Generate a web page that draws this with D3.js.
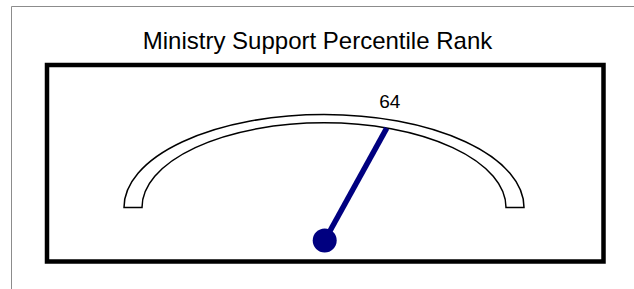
<!DOCTYPE html>
<html>
<head>
<meta charset="utf-8">
<script src="https://cdn.jsdelivr.net/npm/d3@7"></script>
<style>
  body { margin: 0; background: #fff; }
  text { font-family: "Liberation Sans", Arial, sans-serif; fill: #000; }
</style>
</head>
<body>
<script>
const title = "Ministry Support Percentile Rank";
const gaugeDomain = [0, 100];
const values = [64];
const valueLabels = ["64"];

const w = 634;
const h = 289;
const cx = 324;
const cy = 207.5;
const rOuter = 200;
const rInner = 182;
const squash = 0.465;

const svg = d3
  .select("body")
  .append("svg")
  .attr("width", w)
  .attr("height", h);

// outer chart area border (only left + top visible)
svg.append("path")
  .attr("d", `M11.5,${h} V6.5 H${w}`)
  .attr("fill", "none")
  .attr("stroke", "#8c8c8c")
  .attr("stroke-width", 1);

svg.append("text")
  .attr("x", 317.5)
  .attr("y", 48.5)
  .attr("text-anchor", "middle")
  .style("font-size", "24px")
  .text(title);

// plot frame
svg.append("rect")
  .attr("x", 47)
  .attr("y", 65)
  .attr("width", 556.5)
  .attr("height", 196.5)
  .attr("fill", "#fff")
  .attr("stroke", "#000")
  .attr("stroke-width", 4.5);

// value -> angle (d3.arc convention, 0 = up)
const angle = d3.scaleLinear()
  .domain(gaugeDomain)
  .range([-0.4 * Math.PI, 0.4 * Math.PI]);

const band = d3.arc()
  .innerRadius(rInner)
  .outerRadius(rOuter)
  .startAngle(-Math.PI / 2)
  .endAngle(Math.PI / 2);

svg.append("g")
  .attr("transform", `translate(${cx},${cy}) scale(1,${squash})`)
  .append("path")
  .attr("d", band())
  .attr("fill", "#fff")
  .attr("stroke", "#000")
  .attr("stroke-width", 1.5)
  .attr("vector-effect", "non-scaling-stroke");

const pivot = [324.7, 240.5];

values.forEach((v, i) => {
  const a = angle(v);
  const tx = cx + rInner * Math.sin(a);
  const ty = cy - rInner * squash * Math.cos(a);
  svg.append("line")
    .attr("x1", pivot[0])
    .attr("y1", pivot[1])
    .attr("x2", tx)
    .attr("y2", ty)
    .attr("stroke", "#000080")
    .attr("stroke-width", 5.5);
  svg.append("circle")
    .attr("cx", pivot[0])
    .attr("cy", pivot[1])
    .attr("r", 12)
    .attr("fill", "#000080");
  svg.append("text")
    .attr("x", cx + (rInner + rOuter) / 2 * Math.sin(a))
    .attr("y", cy - (rOuter * squash + 12.5) * Math.cos(a))
    .attr("text-anchor", "middle")
    .style("font-size", "19px")
    .text(valueLabels[i]);
});
</script>
</body>
</html>
